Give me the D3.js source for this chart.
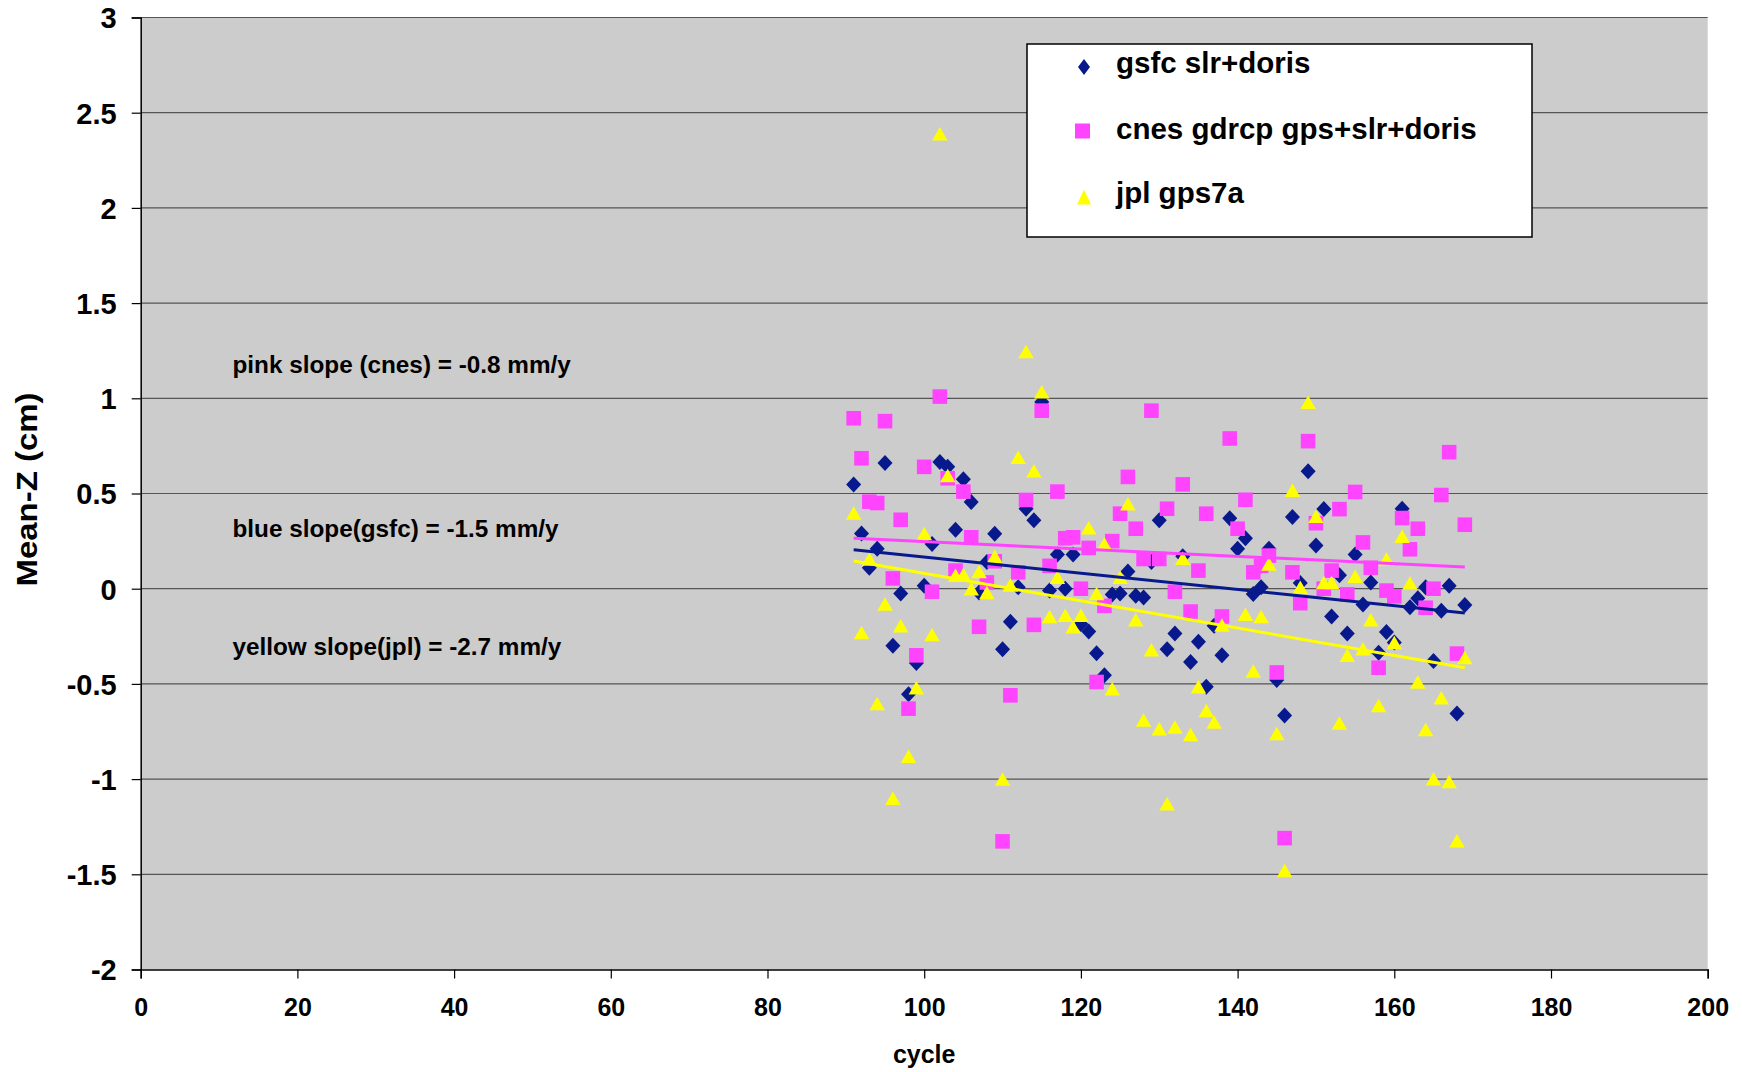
<!DOCTYPE html>
<html>
<head>
<meta charset="utf-8">
<script src="https://cdn.jsdelivr.net/npm/d3@7"></script>
<style>
  html, body { margin: 0; padding: 0; background: #ffffff; }
  svg { display: block; }
  text { font-family: "Liberation Sans", Arial, sans-serif; font-weight: bold; fill: #000; }
</style>
</head>
<body>
<svg id="chart" width="1742" height="1072"></svg>
<script>
// ---------------- data ----------------
const cycles = [91,92,93,94,95,96,97,98,99,100,101,102,103,104,105,106,107,108,109,110,
  111,112,113,114,115,116,117,118,119,120,121,122,123,124,125,126,127,128,129,130,
  131,132,133,134,135,136,137,138,139,140,141,142,143,144,145,146,147,148,149,150,
  151,152,153,154,155,156,157,158,159,160,161,162,163,164,165,166,167,168,169];

const gsfc = [0.547,0.29,0.11,0.21,0.66,-0.30,-0.025,-0.555,-0.39,0.016,
  0.235,0.666,0.64,0.31,0.575,0.455,-0.02,0.14,0.288,-0.318,
  -0.174,0.007,0.42,0.36,0.98,-0.01,0.18,0.0,0.18,-0.186,
  -0.225,-0.339,-0.455,-0.03,-0.025,0.09,-0.037,-0.046,0.14,0.359,
  -0.318,-0.235,0.17,-0.385,-0.279,-0.515,-0.195,-0.35,0.37,0.21,
  0.265,-0.028,0.007,0.21,-0.48,-0.666,0.376,0.03,0.617,0.227,
  0.418,-0.146,0.07,-0.235,0.18,-0.083,0.033,-0.336,-0.227,-0.283,
  0.42,-0.098,-0.05,0.007,-0.38,-0.116,0.016,-0.655,-0.086];

const cnes = [0.895,0.685,0.457,0.45,0.88,0.054,0.362,-0.63,-0.35,0.64,
  -0.016,1.009,0.58,0.095,0.51,0.27,-0.2,0.033,0.144,-1.327,
  -0.56,0.086,0.466,-0.19,0.935,0.12,0.51,0.265,0.27,0.0,
  0.214,-0.49,-0.09,0.25,0.394,0.587,0.315,0.156,0.935,0.156,
  0.42,-0.016,0.548,-0.12,0.095,0.394,null,-0.146,0.789,0.315,
  0.467,0.086,0.12,0.174,-0.44,-1.31,0.086,-0.076,0.775,0.344,
  0.0,0.095,0.418,-0.03,0.508,0.243,0.11,-0.415,-0.01,-0.04,
  0.371,0.207,0.315,-0.1,0.0,0.492,0.717,-0.341,0.336];

const jpl = [0.397,-0.23,0.156,-0.603,-0.08,-1.1,-0.195,-0.88,-0.52,0.29,
  -0.24,2.39,0.595,0.07,0.074,0.0,0.09,-0.02,0.17,-1.0,
  0.02,0.69,1.246,0.62,1.035,-0.146,0.06,-0.14,-0.2,-0.14,
  0.32,-0.025,0.235,-0.525,0.06,0.446,-0.163,-0.69,-0.321,-0.736,
  -1.13,-0.727,0.16,-0.766,-0.515,-0.64,-0.7,-0.19,null,null,
  -0.134,-0.432,-0.146,0.13,-0.76,-1.48,0.517,0.007,0.979,0.38,
  0.033,0.033,-0.705,-0.35,0.065,-0.315,-0.163,-0.613,0.156,-0.283,
  0.276,0.03,-0.49,-0.74,-0.998,-0.573,-1.012,-1.324,-0.362];

// linear trend end points (cycle 91 and 169)
const trendCycles = [91, 169];
const trendGsfc = [0.205, -0.128];
const trendCnes = [0.265, 0.114];
const trendJpl = [0.145, -0.415];

const seriesNames = ["gsfc slr+doris", "cnes gdrcp gps+slr+doris", "jpl gps7a"];
const slopeNotes = ["pink slope (cnes) = -0.8 mm/y", "blue slope(gsfc) = -1.5 mm/y", "yellow slope(jpl) = -2.7 mm/y"];
const xTicks = [0,20,40,60,80,100,120,140,160,180,200];
const yTicks = [-2,-1.5,-1,-0.5,0,0.5,1,1.5,2,2.5,3];
const xTitle = "cycle";
const yTitle = "Mean-Z (cm)";

// ---------------- layout ----------------
const colors = { gsfc: "#07198c", cnes: "#ff44ff", jpl: "#ffff00" };
const L = 140.7, R = 1707.7, T = 17.5, B = 969.5;
const svg = d3.select("#chart");
svg.append("rect").attr("width", 1742).attr("height", 1072).attr("fill", "#fff");

const x = d3.scaleLinear().domain([0, 200]).range([L, R]);
const y = d3.scaleLinear().domain([-2, 3]).range([B, T]);

// plot background
svg.append("rect").attr("x", L).attr("y", T).attr("width", R - L).attr("height", B - T).attr("fill", "#cccccc");

// gridlines
svg.append("g").selectAll("line").data(yTicks.filter(d => d > -2)).join("line")
  .attr("x1", L).attr("x2", R).attr("y1", d => y(d)).attr("y2", d => y(d))
  .attr("stroke", "#555").attr("stroke-width", 1.2);

// axes
const yAxis = d3.axisLeft(y).tickValues(yTicks).tickSize(9).tickPadding(15).tickFormat(d => String(d));
const gy = svg.append("g").attr("transform", `translate(${L},0)`).call(yAxis);
gy.select(".domain").attr("stroke", "#000").attr("stroke-width", 1.5);
gy.selectAll(".tick line").attr("stroke", "#000").attr("stroke-width", 1.2);
gy.selectAll(".tick text").attr("font-size", 29).attr("font-family", "Liberation Sans, Arial, sans-serif")
  .attr("font-weight", "bold").attr("fill", "#000").attr("dy", "0.36em");

const xAxis = d3.axisBottom(x).tickValues(xTicks).tickSize(9).tickPadding(20).tickFormat(d => String(d));
const gx = svg.append("g").attr("transform", `translate(0,${B})`).call(xAxis);
gx.select(".domain").attr("stroke", "#000").attr("stroke-width", 1.5);
gx.selectAll(".tick line").attr("stroke", "#000").attr("stroke-width", 1.2);
gx.selectAll(".tick text").attr("font-size", 25).attr("font-family", "Liberation Sans, Arial, sans-serif")
  .attr("font-weight", "bold").attr("fill", "#000");

// axis titles
svg.append("text").attr("x", (L + R) / 2).attr("y", 1063).attr("text-anchor", "middle")
  .attr("font-size", 25).text(xTitle);
svg.append("text").attr("transform", `translate(37,${(T + B) / 2 - 4}) rotate(-90)`)
  .attr("text-anchor", "middle").attr("font-size", 29)
  .attr("textLength", 194).attr("lengthAdjust", "spacingAndGlyphs").text(yTitle);

// marker shapes
function diamond(cx, cy, w, h) {
  return `M${cx},${cy - h / 2}L${cx + w / 2},${cy}L${cx},${cy + h / 2}L${cx - w / 2},${cy}Z`;
}
function tri(cx, cy, w, h) {
  return `M${cx},${cy - h / 2}L${cx + w / 2},${cy + h / 2}L${cx - w / 2},${cy + h / 2}Z`;
}
function pts(vals) { return cycles.map((c, i) => ({ c, v: vals[i] })).filter(d => d.v !== null); }

svg.append("g").selectAll("path").data(pts(gsfc)).join("path")
  .attr("d", d => diamond(x(d.c), y(d.v), 15, 16))
  .attr("fill", colors.gsfc);
svg.append("g").selectAll("rect").data(pts(cnes)).join("rect")
  .attr("x", d => x(d.c) - 7.3).attr("y", d => y(d.v) - 7.3).attr("width", 14.6).attr("height", 14.6)
  .attr("fill", colors.cnes);
svg.append("g").selectAll("path").data(pts(jpl)).join("path")
  .attr("d", d => tri(x(d.c), y(d.v), 15.5, 13.5))
  .attr("fill", colors.jpl);

// trend lines
const line = d3.line().x(d => x(d[0])).y(d => y(d[1]));
[[trendCnes, colors.cnes], [trendGsfc, colors.gsfc], [trendJpl, colors.jpl]].forEach(([t, col]) => {
  svg.append("path").attr("d", line(trendCycles.map((c, i) => [c, t[i]])))
    .attr("stroke", col).attr("stroke-width", 3).attr("fill", "none");
});

// slope notes
const noteY = [373, 537, 655];
slopeNotes.forEach((s, i) => {
  svg.append("text").attr("x", 232.5).attr("y", noteY[i]).attr("font-size", 24.3).text(s);
});

// legend
const lg = svg.append("g");
lg.append("rect").attr("x", 1027).attr("y", 44).attr("width", 505).attr("height", 193)
  .attr("fill", "#fff").attr("stroke", "#000").attr("stroke-width", 1.5);
const rowY = [67, 131, 197];
const textY = [72.8, 139.4, 202.8];
lg.append("path").attr("d", diamond(1084, rowY[0], 12, 16)).attr("fill", colors.gsfc);
lg.append("rect").attr("x", 1075).attr("y", rowY[1] - 7.5).attr("width", 15).attr("height", 15).attr("fill", colors.cnes);
lg.append("path").attr("d", tri(1084, rowY[2], 14, 15)).attr("fill", colors.jpl);
seriesNames.forEach((s, i) => {
  lg.append("text").attr("x", 1116).attr("y", textY[i]).attr("font-size", 29.5).text(s);
});
</script>
</body>
</html>
